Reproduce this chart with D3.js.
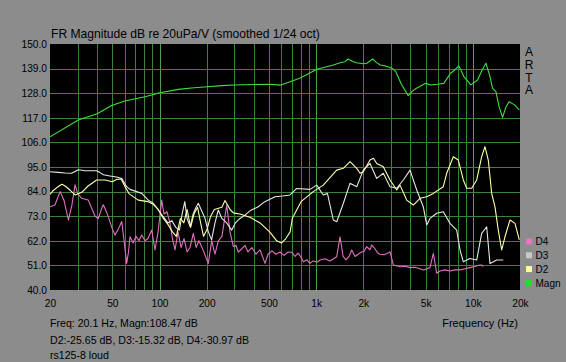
<!DOCTYPE html>
<html><head><meta charset="utf-8">
<script src="https://cdn.jsdelivr.net/npm/d3@7"></script>
<style>
html,body{margin:0;padding:0;background:#8c8c8c;}
svg{display:block;font-family:"Liberation Sans",Arial,sans-serif;}
</style></head><body>
<svg id="c" width="566" height="362"></svg>
<script>
// ---- data ----
const yTicks = [150,139,128,117,106,95,84,73,62,51,40];
const xTickFreqs = [20,50,100,200,500,1000,2000,5000,10000,20000];
const xTickLabels = ["20","50","100","200","500","1k","2k","5k","10k","20k"];

const magnFreq = [20,30.3,40,49.5,60,80.8,100.7,131.8,160,201,250,299,400,507,588,683,783,880,1008,1150,1286,1420,1528,1597,1700,1800,1896,2000,2102,2296,2420,2564,2760,2927,3100,3224,3500,3870,4100,4364,4999,5374,5921,6525,7203,7700,8139,8500,8770,9697,10720,11400,12120,12800,13370,14040,14700,15490,16240,17030,18370,19800];
const magnVals = [108.5,116,118.8,122.5,124.5,126.4,128.2,129.7,130.3,130.9,131.4,131.7,131.9,132,131.6,133.1,134.7,136.5,138.7,139.7,140.6,141.6,142.1,143.3,142.3,141.6,141.4,141.2,141.4,143.3,141.8,140.6,140.2,139.6,138.8,137.6,132,126.9,128.8,130.2,132.4,131.7,132,132.4,136.9,138.5,140.2,137.5,135.4,131.7,133.9,138,141.4,136,130.2,128.7,122,117.2,121.7,124.2,122.9,120.5];

const d2Freq = [20,21,22.5,23.8,25,26.8,28.9,30.3,31.9,35,39.7,45,50,53.5,57,60.5,64,73.2,84.8,90.5,98,106,114,121,128,136,143,150,158,166,175,183,191,201,212,224,250,262,282,296,326,378,438,505,560,600,640,682,705,800,958,1110,1352,1490,1644,1815,1906,2000,2206,2320,2434,2683,2960,3267,3430,3783,4170,4601,5077,5594,6478,6810,7506,8078,8694,9140,9836,10583,11386,11952,12546,13190,13845,14534,15279,16037,17270,18582,19800];
const d2Vals = [82.8,84.5,86.2,87.3,86.5,84.7,82.5,83,83.7,86.5,89.2,89.2,88.4,89.5,89.5,86,83,80.2,79.5,78.5,76,72,69,66,64,72,70,76,68,74,77,70,64,67,73,76,77,80,76,74.5,74,72.5,70,66,62,61,63,66,72.1,79.5,84,86.9,93.6,94.4,97.4,94.4,92.2,92.9,98.1,98.9,96.6,95.1,89.2,84.7,86.9,80.2,78,81,81.7,83.2,86.2,92.2,99.6,98.1,89.2,85.5,85.5,89.2,99.6,104.1,98.1,83.2,77.2,66.8,57.9,63.8,71.3,69.8,62.4];

const d3Freq = [20,22.5,24.9,27.5,30.3,32.9,36,39.7,41.7,43.8,48.3,53.3,57.5,61.7,64.8,77,84.8,91.3,98,105,113,120,127,134,139.5,145,150,157,164,171,176.9,187,195,205,215,226,237.3,250,268.5,289,305,326.5,351,380,427,470,546,610,681,751,914,1008,1110,1180,1286,1352,1490,1644,1815,2000,2206,2434,2683,2960,3267,3600,3973,4383,4830,5077,5328,5880,6478,7150,7890,8282,8694,9594,10583,11386,12254,12862,14197,15642];
const d3Vals = [92.9,92.6,92.3,92.2,93.8,93.4,93.3,93.3,92.5,91.5,91,90.5,89.8,86.2,85,83.2,80.2,78.8,76,73,70,71,68,66.8,74,79.5,72,68.3,74,77,78.8,75,72.1,66,62.4,70,75.8,72,70,66.8,70,72,73.5,75.5,77.2,79.5,81.7,82,82.5,85.4,85,86.9,82.5,83.2,71.3,70.5,78.7,87.7,86.2,93.6,96.6,89.9,92.2,86.2,85.5,89.2,93.6,84.7,77.2,69.1,72,74.3,75,69.8,66.8,57.9,52.6,54.1,53.4,65.3,68.3,51.9,53.4,53.4];

const d4Freq = [20,21.5,23.2,24.6,26.2,27.6,28.9,30.1,31.9,34,35.1,37.2,38.8,40.7,42.5,43.8,45.8,47.1,49.6,52,54.4,57.4,59.4,61.7,63.4,64.8,67.8,70.8,74,77,80.8,84.4,89.2,93.6,97.9,103.3,106.8,111.6,116.7,121,125.6,131.3,137.2,143.4,150,156.6,164.4,171.3,178.6,189.5,204.8,215.3,226,237.3,250.4,268.5,281.8,295.8,307.6,318.4,330,351.3,367,389,413,438,471.4,493,522,554,588,624,662,698,733,767,788,828,874,914,955,1020,1058,1138,1226,1352,1420,1485,1550,1620,1686,1770,1850,1950,2018,2101,2206,2262,2340,2475,2556,2720,2880,2960,3108,3280,3430,3690,3973,4275,4601,4830,5100,5328,5594,5880,6172,6642,7150,7695,8282,8914,9594,10322,10780,11386,11657];
const d4Vals = [77.2,78,84,80,71.3,78,87,83,81,80.5,80.2,76,73,72,76,78.1,75,72.8,68,64.6,67,70.6,62,51.9,57,63.8,61,64,62,64.6,62,63,66.8,57.9,66,80.2,74,75,69.8,63,57.9,66,59,63,57,59,65.3,59,62,58,51.9,62,56,62,64,78,66,59.4,60,56.9,58,60,57,59,56,58,51.9,56,57.5,56,57,55.5,57,56.9,55,56.5,55.4,52.6,53.5,51.9,53,52.5,53.4,54,53,54.9,63.8,55,53.5,55,57.9,55,56,57,57.2,59.4,58,60.1,59,56.5,56,55.8,56.5,57.1,51.2,50.8,50.4,50.6,50,50.2,49.5,48.9,49.5,50,56.4,47.5,48.5,49,48.5,49,49,49.5,50,50.5,51,51.2,50.5];

const legendNames = ["D4","D3","D2","Magn"];
const legendColors = ["#f070c8","#c8c8c8","#ffff99","#22e022"];

// ---- layout ----
const svg = d3.select("#c");
const L = 50, R = 520, T = 44, B = 290;
const x = d3.scaleLog().domain([20,20000]).range([L,R]);
const y = d3.scaleLinear().domain([40,150]).range([B,T]);

svg.append("rect").attr("x",L).attr("y",T).attr("width",R-L).attr("height",B-T).attr("fill","#000");

// grid
const gridF = [];
[10,100,1000,10000].forEach(dec=>{for(let m=1;m<10;m++){const f=dec*m; if(f>20&&f<20000) gridF.push(f);}});
const g = svg.append("g");
g.selectAll("line.v").data(gridF).join("line")
  .attr("x1",d=>Math.round(x(d))+0.5).attr("x2",d=>Math.round(x(d))+0.5)
  .attr("y1",T).attr("y2",B)
  .attr("stroke",d=>[100,1000,10000].includes(d)?"#4fa04f":"#3a843a").attr("stroke-width",1);
g.selectAll("line.h").data(yTicks.filter(t=>t>40&&t<150)).join("line")
  .attr("x1",L).attr("x2",R)
  .attr("y1",d=>Math.round(y(d))+0.5).attr("y2",d=>Math.round(y(d))+0.5)
  .attr("stroke","#3a843a").attr("stroke-width",1);

// axes
const yAx = svg.append("g").attr("transform",`translate(${L-3},0)`)
  .call(d3.axisLeft(y).tickValues(yTicks).tickSize(0).tickPadding(0).tickFormat(d3.format(".1f")));
const xAx = svg.append("g").attr("transform",`translate(0,${B+10})`)
  .call(d3.axisBottom(x).tickValues(xTickFreqs).tickSize(0).tickPadding(0).tickFormat((d,i)=>xTickLabels[i]));
[yAx,xAx].forEach(a=>{a.select(".domain").remove(); a.selectAll("text").attr("font-size","10.2px").attr("fill","#000").attr("font-family","'Liberation Sans',Arial,sans-serif");});
xAx.selectAll("text").attr("dy","0.71em");

// curves
svg.append("clipPath").attr("id","pc").append("rect").attr("x",L).attr("y",T).attr("width",R-L).attr("height",B-T);
const line = d3.line().x(d=>x(d[0])).y(d=>y(d[1]));
const series = [
  {f:d4Freq,v:d4Vals,c:"#e070c0"},
  {f:d3Freq,v:d3Vals,c:"#e6e6e6"},
  {f:d2Freq,v:d2Vals,c:"#ffffaa"},
  {f:magnFreq,v:magnVals,c:"#3ee03e"}
];
series.forEach(s=>{
  svg.append("path").attr("clip-path","url(#pc)")
    .attr("d",line(s.f.map((f,i)=>[f,s.v[i]])))
    .attr("fill","none").attr("stroke",s.c).attr("stroke-width",1.1).attr("stroke-linejoin","round");
});

// texts
const txt = (t,xx,yy,opt={}) => svg.append("text").attr("x",xx).attr("y",yy).text(t)
  .attr("font-size",opt.size||"11px").attr("fill","#000").attr("text-anchor",opt.anchor||"start");
txt("FR Magnitude dB re 20uPa/V (smoothed 1/24 oct)",51,38,{size:"12.1px"});
["A","R","T","A"].forEach((ch,i)=>txt(ch,529,56+i*12.8,{anchor:"middle",size:"12px"}));
legendNames.forEach((n,i)=>{
  const yy = 241.5+i*13.8;
  svg.append("rect").attr("x",526).attr("y",yy-3).attr("width",6).attr("height",6).attr("fill",legendColors[i]);
  txt(n,535.5,yy+3.8,{size:"10px"});
});
txt("Freq: 20.1 Hz, Magn:108.47 dB",50,327,{size:"10.6px"});
txt("D2:-25.65 dB, D3:-15.32 dB, D4:-30.97 dB",50,344,{size:"10.6px"});
txt("rs125-8 loud",50,359,{size:"10.6px"});
txt("Frequency (Hz)",518,327,{anchor:"end",size:"11px"});
</script>
</body></html>
